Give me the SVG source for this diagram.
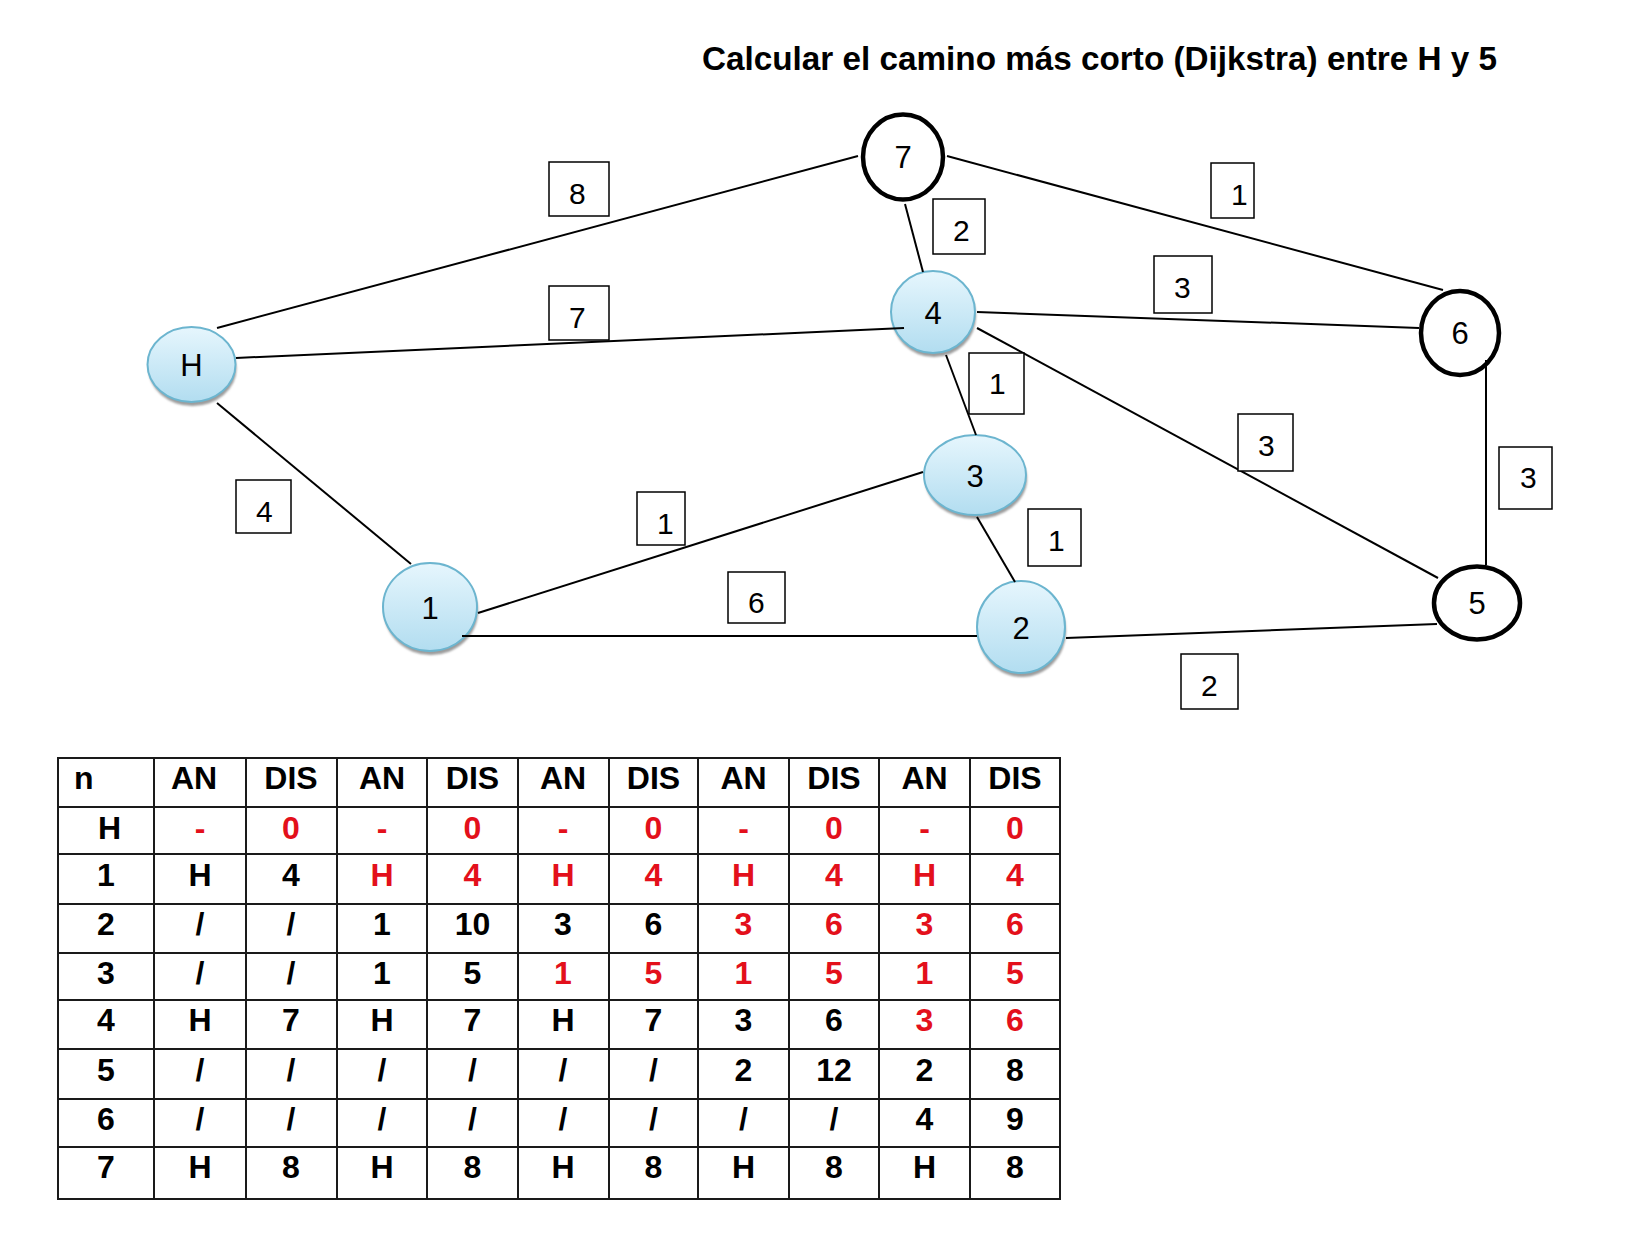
<svg xmlns="http://www.w3.org/2000/svg" width="1642" height="1245" viewBox="0 0 1642 1245">
  <style>
    .edge { stroke: #000; stroke-width: 2; fill: none; }
    .wbox { fill: #fff; stroke: #000; stroke-width: 1.5; }
    .wtxt { font-family: "Liberation Sans", Arial, sans-serif; font-size: 30px; fill: #000; }
    .nlbl { font-family: "Liberation Sans", Arial, sans-serif; font-size: 31px; fill: #000; text-anchor: middle; }
    .soft { fill: url(#nodeFill); stroke: #6cb5cf; stroke-width: 2; }
    .shade { fill: #9c9c9c; filter: url(#blur1); }
    .ring { fill: #fff; stroke: #000; stroke-width: 4.5; }
    .title { font-family: "Liberation Sans", Arial, sans-serif; font-size: 33.5px; font-weight: bold; fill: #000; }
    .grid { stroke: #1a1a1a; stroke-width: 2; fill: none; }
    .cell { font-family: "Liberation Sans", Arial, sans-serif; font-size: 32px; font-weight: bold; fill: #000; text-anchor: middle; }
    .first { text-anchor: start; }
    .red { fill: #e3101b; }
  </style>
  <defs>
    <linearGradient id="nodeFill" x1="0" y1="0" x2="0" y2="1">
      <stop offset="0" stop-color="#e6f6fd"/>
      <stop offset="1" stop-color="#b2ddf0"/>
    </linearGradient>
    <filter id="blur1" x="-20%" y="-20%" width="140%" height="140%">
      <feGaussianBlur stdDeviation="1.2"/>
    </filter>
  </defs>

  <rect width="1642" height="1245" fill="#fff"/>

  <text class="title" x="702" y="70" textLength="795" lengthAdjust="spacingAndGlyphs">Calcular el camino más corto (Dijkstra) entre H y 5</text>

  <!-- graph nodes -->
  <g id="node-H">
    <ellipse class="shade" cx="192.5" cy="368.5" rx="44" ry="37.5"/>
    <ellipse class="soft" cx="191.5" cy="364.5" rx="44" ry="37.5"/>
    <text class="nlbl" x="191.5" y="376">H</text>
  </g>
  <g id="node-7">
    <ellipse class="ring" cx="903" cy="157" rx="40" ry="42.5"/>
    <text class="nlbl" x="903" y="168">7</text>
  </g>
  <g id="node-4">
    <ellipse class="shade" cx="934" cy="316" rx="42" ry="41"/>
    <ellipse class="soft" cx="933" cy="312" rx="42" ry="41"/>
    <text class="nlbl" x="933" y="324">4</text>
  </g>
  <g id="node-6">
    <ellipse class="ring" cx="1460" cy="333" rx="39" ry="42"/>
    <text class="nlbl" x="1460" y="344">6</text>
  </g>
  <g id="node-3">
    <ellipse class="shade" cx="976" cy="479" rx="51" ry="40"/>
    <ellipse class="soft" cx="975" cy="475" rx="51" ry="40"/>
    <text class="nlbl" x="975" y="487">3</text>
  </g>
  <g id="node-1">
    <ellipse class="shade" cx="431" cy="611" rx="47" ry="44"/>
    <ellipse class="soft" cx="430" cy="607" rx="47" ry="44"/>
    <text class="nlbl" x="430" y="619">1</text>
  </g>
  <g id="node-2">
    <ellipse class="shade" cx="1022" cy="631" rx="44" ry="46"/>
    <ellipse class="soft" cx="1021" cy="627" rx="44" ry="46"/>
    <text class="nlbl" x="1021" y="639">2</text>
  </g>
  <g id="node-5">
    <ellipse class="ring" cx="1477" cy="603" rx="43" ry="36.5"/>
    <text class="nlbl" x="1477" y="614">5</text>
  </g>

  <!-- connectors, drawn over the node bodies -->
  <g id="edges">
    <line class="edge" x1="217" y1="328" x2="858" y2="156"/>
    <line class="edge" x1="236" y1="358" x2="904" y2="328"/>
    <line class="edge" x1="217" y1="403" x2="411" y2="564"/>
    <line class="edge" x1="947" y1="156" x2="1443" y2="290"/>
    <line class="edge" x1="905" y1="204" x2="923" y2="272"/>
    <line class="edge" x1="977" y1="312" x2="1419" y2="328"/>
    <line class="edge" x1="977" y1="328" x2="1438" y2="578"/>
    <line class="edge" x1="946" y1="355" x2="976" y2="435"/>
    <line class="edge" x1="1486" y1="360" x2="1486" y2="565"/>
    <line class="edge" x1="478" y1="613" x2="923" y2="472"/>
    <line class="edge" x1="462" y1="636" x2="977" y2="636"/>
    <line class="edge" x1="977" y1="517" x2="1015" y2="582"/>
    <line class="edge" x1="1066" y1="638" x2="1437" y2="624"/>
  </g>

  <!-- edge weights -->
  <g id="weights">
    <rect class="wbox" x="549" y="162" width="60" height="54"/><text class="wtxt" x="569" y="204">8</text>
    <rect class="wbox" x="549" y="286" width="60" height="54"/><text class="wtxt" x="569" y="328">7</text>
    <rect class="wbox" x="236" y="480" width="55" height="53"/><text class="wtxt" x="256" y="522">4</text>
    <rect class="wbox" x="933" y="199" width="52" height="55"/><text class="wtxt" x="953" y="241">2</text>
    <rect class="wbox" x="1211" y="163" width="43" height="55"/><text class="wtxt" x="1231" y="205">1</text>
    <rect class="wbox" x="1154" y="256" width="58" height="57"/><text class="wtxt" x="1174" y="298">3</text>
    <rect class="wbox" x="969" y="353" width="55" height="61"/><text class="wtxt" x="989" y="394">1</text>
    <rect class="wbox" x="1238" y="414" width="55" height="57"/><text class="wtxt" x="1258" y="456">3</text>
    <rect class="wbox" x="1499" y="447" width="53" height="62"/><text class="wtxt" x="1520" y="488">3</text>
    <rect class="wbox" x="637" y="492" width="48" height="53"/><text class="wtxt" x="657" y="534">1</text>
    <rect class="wbox" x="728" y="572" width="57" height="51"/><text class="wtxt" x="748" y="613">6</text>
    <rect class="wbox" x="1028" y="509" width="53" height="57"/><text class="wtxt" x="1048" y="551">1</text>
    <rect class="wbox" x="1181" y="654" width="57" height="55"/><text class="wtxt" x="1201" y="696">2</text>
  </g>

  <!-- Dijkstra iteration table -->
  <g id="table">
    <rect class="grid" x="58" y="758" width="1002" height="441"/>
    <path class="grid" d="M154 758V1199M246 758V1199M337 758V1199M427 758V1199M518 758V1199M609 758V1199M698 758V1199M789 758V1199M879 758V1199M970 758V1199"/>
    <path class="grid" d="M58 807H1060M58 854H1060M58 904H1060M58 953H1060M58 1000H1060M58 1049H1060M58 1099H1060M58 1147H1060"/>

    <g>
      <text class="cell first" x="74" y="789">n</text>
      <text class="cell" x="194" y="789">AN</text>
      <text class="cell" x="291" y="789">DIS</text>
      <text class="cell" x="382" y="789">AN</text>
      <text class="cell" x="472.5" y="789">DIS</text>
      <text class="cell" x="563" y="789">AN</text>
      <text class="cell" x="653.5" y="789">DIS</text>
      <text class="cell" x="743.5" y="789">AN</text>
      <text class="cell" x="834" y="789">DIS</text>
      <text class="cell" x="924.5" y="789">AN</text>
      <text class="cell" x="1015" y="789">DIS</text>
    </g>
    <g>
      <text class="cell first" x="98" y="839">H</text>
      <text class="cell red" x="200" y="839">-</text>
      <text class="cell red" x="291" y="839">0</text>
      <text class="cell red" x="382" y="839">-</text>
      <text class="cell red" x="472.5" y="839">0</text>
      <text class="cell red" x="563" y="839">-</text>
      <text class="cell red" x="653.5" y="839">0</text>
      <text class="cell red" x="743.5" y="839">-</text>
      <text class="cell red" x="834" y="839">0</text>
      <text class="cell red" x="924.5" y="839">-</text>
      <text class="cell red" x="1015" y="839">0</text>
    </g>
    <g>
      <text class="cell first" x="97" y="886">1</text>
      <text class="cell" x="200" y="886">H</text>
      <text class="cell" x="291" y="886">4</text>
      <text class="cell red" x="382" y="886">H</text>
      <text class="cell red" x="472.5" y="886">4</text>
      <text class="cell red" x="563" y="886">H</text>
      <text class="cell red" x="653.5" y="886">4</text>
      <text class="cell red" x="743.5" y="886">H</text>
      <text class="cell red" x="834" y="886">4</text>
      <text class="cell red" x="924.5" y="886">H</text>
      <text class="cell red" x="1015" y="886">4</text>
    </g>
    <g>
      <text class="cell first" x="97" y="935">2</text>
      <text class="cell" x="200" y="935">/</text>
      <text class="cell" x="291" y="935">/</text>
      <text class="cell" x="382" y="935">1</text>
      <text class="cell" x="472.5" y="935">10</text>
      <text class="cell" x="563" y="935">3</text>
      <text class="cell" x="653.5" y="935">6</text>
      <text class="cell red" x="743.5" y="935">3</text>
      <text class="cell red" x="834" y="935">6</text>
      <text class="cell red" x="924.5" y="935">3</text>
      <text class="cell red" x="1015" y="935">6</text>
    </g>
    <g>
      <text class="cell first" x="97" y="984">3</text>
      <text class="cell" x="200" y="984">/</text>
      <text class="cell" x="291" y="984">/</text>
      <text class="cell" x="382" y="984">1</text>
      <text class="cell" x="472.5" y="984">5</text>
      <text class="cell red" x="563" y="984">1</text>
      <text class="cell red" x="653.5" y="984">5</text>
      <text class="cell red" x="743.5" y="984">1</text>
      <text class="cell red" x="834" y="984">5</text>
      <text class="cell red" x="924.5" y="984">1</text>
      <text class="cell red" x="1015" y="984">5</text>
    </g>
    <g>
      <text class="cell first" x="97" y="1031">4</text>
      <text class="cell" x="200" y="1031">H</text>
      <text class="cell" x="291" y="1031">7</text>
      <text class="cell" x="382" y="1031">H</text>
      <text class="cell" x="472.5" y="1031">7</text>
      <text class="cell" x="563" y="1031">H</text>
      <text class="cell" x="653.5" y="1031">7</text>
      <text class="cell" x="743.5" y="1031">3</text>
      <text class="cell" x="834" y="1031">6</text>
      <text class="cell red" x="924.5" y="1031">3</text>
      <text class="cell red" x="1015" y="1031">6</text>
    </g>
    <g>
      <text class="cell first" x="97" y="1081">5</text>
      <text class="cell" x="200" y="1081">/</text>
      <text class="cell" x="291" y="1081">/</text>
      <text class="cell" x="382" y="1081">/</text>
      <text class="cell" x="472.5" y="1081">/</text>
      <text class="cell" x="563" y="1081">/</text>
      <text class="cell" x="653.5" y="1081">/</text>
      <text class="cell" x="743.5" y="1081">2</text>
      <text class="cell" x="834" y="1081">12</text>
      <text class="cell" x="924.5" y="1081">2</text>
      <text class="cell" x="1015" y="1081">8</text>
    </g>
    <g>
      <text class="cell first" x="97" y="1130">6</text>
      <text class="cell" x="200" y="1130">/</text>
      <text class="cell" x="291" y="1130">/</text>
      <text class="cell" x="382" y="1130">/</text>
      <text class="cell" x="472.5" y="1130">/</text>
      <text class="cell" x="563" y="1130">/</text>
      <text class="cell" x="653.5" y="1130">/</text>
      <text class="cell" x="743.5" y="1130">/</text>
      <text class="cell" x="834" y="1130">/</text>
      <text class="cell" x="924.5" y="1130">4</text>
      <text class="cell" x="1015" y="1130">9</text>
    </g>
    <g>
      <text class="cell first" x="97" y="1178">7</text>
      <text class="cell" x="200" y="1178">H</text>
      <text class="cell" x="291" y="1178">8</text>
      <text class="cell" x="382" y="1178">H</text>
      <text class="cell" x="472.5" y="1178">8</text>
      <text class="cell" x="563" y="1178">H</text>
      <text class="cell" x="653.5" y="1178">8</text>
      <text class="cell" x="743.5" y="1178">H</text>
      <text class="cell" x="834" y="1178">8</text>
      <text class="cell" x="924.5" y="1178">H</text>
      <text class="cell" x="1015" y="1178">8</text>
    </g>
  </g>
</svg>
